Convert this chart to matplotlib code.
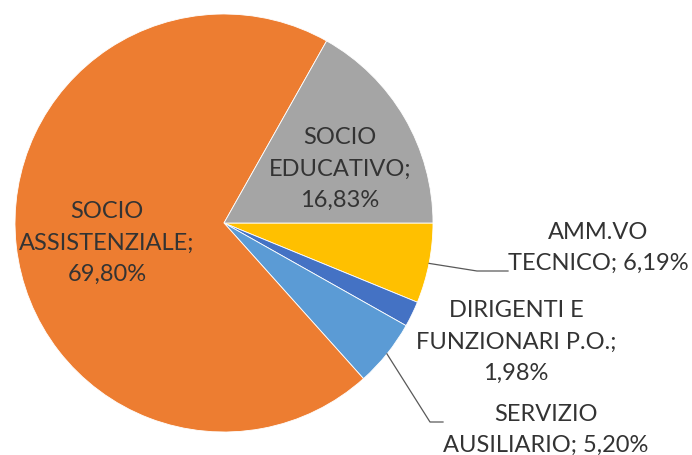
import numpy as np
import matplotlib
matplotlib.use("Agg")
import matplotlib.pyplot as plt

# data (clockwise from 3 o'clock)
categories = ["AMM.VO\nTECNICO; 6,19%", "DIRIGENTI E\nFUNZIONARI P.O.;\n1,98%",
              "SERVIZIO\nAUSILIARIO; 5,20%", "SOCIO\nASSISTENZIALE;\n69,80%",
              "SOCIO\nEDUCATIVO;\n16,83%"]
values = [6.19, 1.98, 5.20, 69.80, 16.83]
colors = ["#FFC000", "#4472C4", "#5B9BD5", "#ED7D31", "#A5A5A5"]

W, H = 692, 456
CX, CY, R = 224, 224, 209


def px2d(px, py):
    # image pixels -> data coords of the pie axes
    return (px - CX) / R, (CY - py) / R


def main():
    plt.rcParams['font.family'] = ['Lato', 'DejaVu Sans']
    fig = plt.figure(figsize=(W / 100, H / 100), dpi=100)
    ax = fig.add_axes([(CX - R) / W, (H - CY - R) / H, 2 * R / W, 2 * R / H])

    wedges, _ = ax.pie(values, colors=colors, startangle=0, counterclock=False,
                       wedgeprops=dict(edgecolor='white', linewidth=0.6))
    ax.set_xlim(-1, 1)
    ax.set_ylim(-1, 1)
    ax.axis('off')

    tc = '#333333'
    fs = 17
    # label centres in image pixels
    label_pos = [(598, 248), (516, 342), (546, 430), (107, 243), (340, 169)]
    for lab, (px, py) in zip(categories, label_pos):
        x, y = px2d(px, py)
        ax.text(x, y, lab, ha='center', va='center', fontsize=fs, color=tc,
                linespacing=1.6, clip_on=False)

    # leader lines: wedge edge -> elbow -> end
    leaders = {0: [(477, 272), (508, 272)], 2: [(430, 423), (443, 423)]}
    for i, pts in leaders.items():
        w = wedges[i]
        ang = np.deg2rad((w.theta1 + w.theta2) / 2)
        xs = [np.cos(ang)] + [px2d(*p)[0] for p in pts]
        ys = [np.sin(ang)] + [px2d(*p)[1] for p in pts]
        ax.plot(xs, ys, color='#595959', lw=0.9, clip_on=False)

    fig.savefig("out.png", dpi=100)


if __name__ == '__main__':
    main()
